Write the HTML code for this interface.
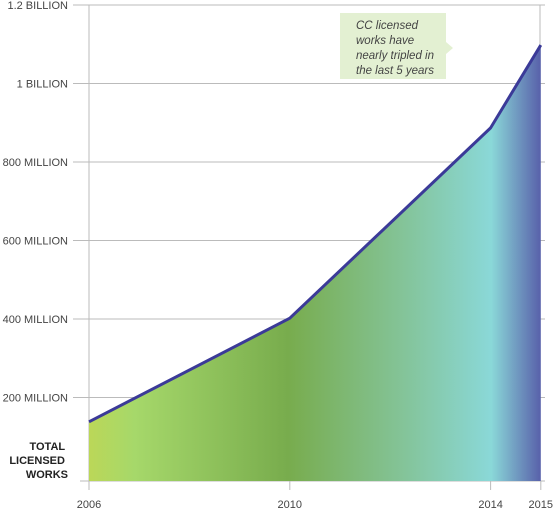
<!DOCTYPE html>
<html><head><meta charset="utf-8">
<style>
body{margin:0;background:#fff;}
svg{display:block;font-family:"Liberation Sans",sans-serif;}
.tick{font-size:11px;fill:#444;}
</style></head>
<body>
<svg width="556" height="518" viewBox="0 0 556 518" xmlns="http://www.w3.org/2000/svg">
<defs>
<linearGradient id="g" x1="89" x2="541" y1="0" y2="0" gradientUnits="userSpaceOnUse">
<stop offset="0" stop-color="#bbd758"/>
<stop offset="0.1" stop-color="#a6d86a"/>
<stop offset="0.44" stop-color="#78ac4d"/>
<stop offset="0.7" stop-color="#84c49a"/>
<stop offset="0.89" stop-color="#8ad8d8"/>
<stop offset="1" stop-color="#5860aa"/>
</linearGradient>
</defs>
<g id="grid"></g>
<g id="plot"></g>
<g id="callout">
<rect x="340" y="13" width="106" height="66" fill="#e3f0d2"/>
<polygon points="446,42 453,48 446,54" fill="#e3f0d2"/>
<text font-style="italic" font-size="11.5" fill="#444">
<tspan x="356" y="29">CC licensed</tspan>
<tspan x="356" y="44">works have</tspan>
<tspan x="356" y="59">nearly tripled in</tspan>
<tspan x="356" y="74">the last 5 years</tspan>
</text>
</g>
<text font-size="11" font-weight="bold" fill="#222" text-anchor="end">
<tspan x="68" y="450">TOTAL</tspan>
<tspan x="68" y="464">LICENSED</tspan>
<tspan x="68" y="478">WORKS</tspan>
</text>
</svg>
<script>
const years = [2006, 2010, 2014, 2015];
const values = [138, 402, 887, 1098]; // millions
const yTicks = [200, 400, 600, 800, 1000, 1200];
const yTickLabels = ["200 MILLION","400 MILLION","600 MILLION","800 MILLION","1 BILLION","1.2 BILLION"];
const xTickLabels = ["2006","2010","2014","2015"];

const NS = "http://www.w3.org/2000/svg";
const xs = y => 89 + (y - 2006) * 50.2;
const ys = v => 476 - v * 0.3925;
function mk(tag, attrs, parent){const e=document.createElementNS(NS,tag);for(const k in attrs)e.setAttribute(k,attrs[k]);parent.appendChild(e);return e;}
const grid = document.getElementById('grid');
const plot = document.getElementById('plot');

yTicks.forEach((t,i)=>{
  const y = ys(t);
  const l = mk('line',{x1:73,x2:545,y1:y,y2:y,stroke:'#bbb','stroke-width':1},grid);
  
  
  const tx = mk('text',{x:68,y:y+4,'text-anchor':'end',class:'tick'},grid);
  tx.textContent = yTickLabels[i];
  
  
});
const ax = mk('line',{x1:89,x2:89,y1:ys(1200),y2:481,stroke:'#bbb'},grid);


const rb = mk('line',{x1:540,x2:540,y1:ys(1200),y2:ys(1000),stroke:'#bbb'},grid);


const base = mk('line',{x1:80,x2:545,y1:481,y2:481,stroke:'#bbb'},grid);


years.forEach((yr,i)=>{
  const x = xs(yr);
  const t = mk('line',{x1:x,x2:x,y1:481,y2:490,stroke:'#bbb'},grid);
  
  
  const tx = mk('text',{x:x,y:508,'text-anchor':'middle',class:'tick'},grid);
  tx.textContent = xTickLabels[i];
  
  
});
const pts = years.map((yr,i)=>xs(yr)+','+ys(values[i]));
const area = mk('polygon',{points:xs(years[0])+',481 '+pts.join(' ')+' '+xs(years[years.length-1])+',481',fill:'url(#g)'},plot);


const line = mk('polyline',{points:pts.join(' '),fill:'none',stroke:'#3b3a98','stroke-width':3,'stroke-linejoin':'round'},plot);


</script>
</body></html>
